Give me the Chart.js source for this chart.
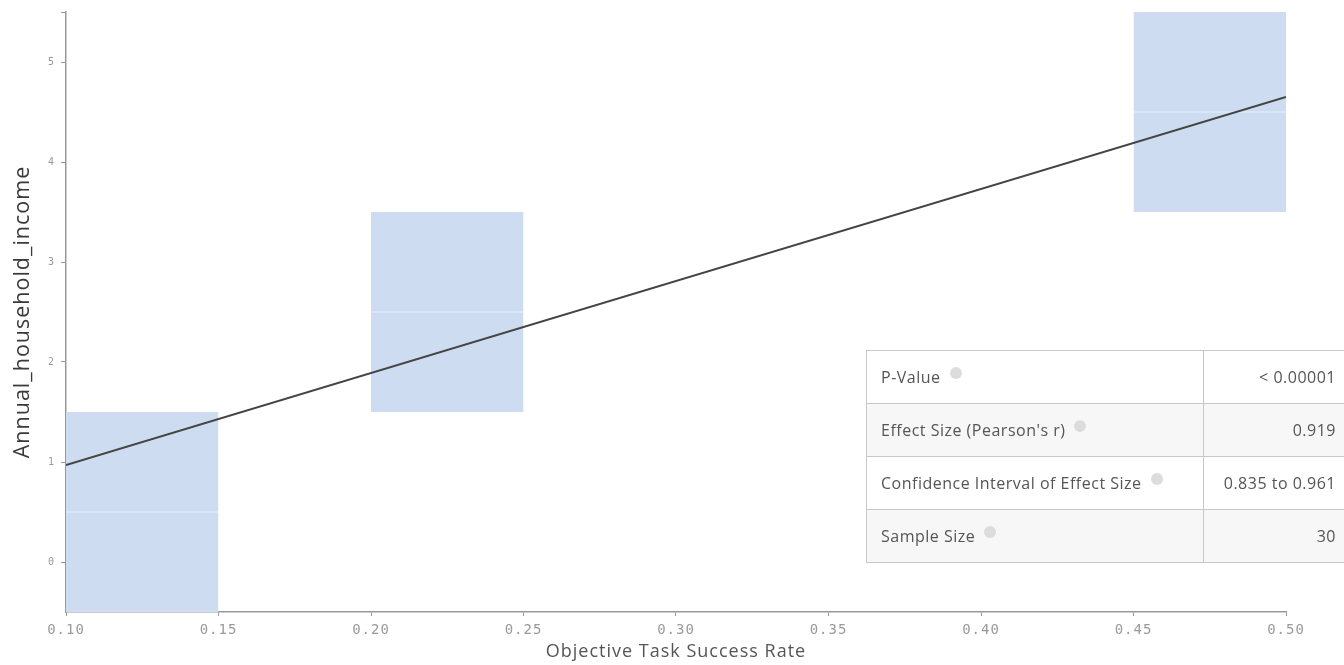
<!DOCTYPE html>
<html>
<head>
<meta charset="utf-8">
<script src="https://cdn.jsdelivr.net/npm/chart.js@4/dist/chart.umd.min.js"></script>
<style>
  html, body { margin: 0; padding: 0; background: #fff; }
  #wrap { position: relative; width: 1344px; height: 665px; overflow: hidden; }
  #stats {
    position: absolute; left: 866px; top: 350px; width: 500px;
    border-collapse: collapse; font-family: "Open Sans", Lato, sans-serif;
    font-size: 16px; letter-spacing: 0.5px; color: #555; table-layout: fixed;
  }
  #stats td { border: 1px solid #c8c8c8; height: 52px; padding: 0; white-space: nowrap; }
  #stats td.lbl { width: 322px; padding-left: 14px; }
  #stats td.val { text-align: right; padding-right: 29px; }
  #stats tr:nth-child(even) td { background: #f7f7f7; }
  .info {
    display: inline-block; width: 12px; height: 12px; border-radius: 50%;
    background: #dcdcdc; margin-left: 9px; vertical-align: 4px;
  }
</style>
</head>
<body>
<div id="wrap">
  <canvas id="c" width="1344" height="665"></canvas>
  <table id="stats"></table>
</div>
<script>
// groups (boxes)
const groupStart = [0.10, 0.20, 0.45];
const groupEnd = [0.15, 0.25, 0.50];
const groupLow = [-0.5, 1.5, 3.5];
const groupHigh = [1.5, 3.5, 5.5];
const groupMedian = [0.5, 2.5, 4.5];

// regression line
const fitX = [0.10, 0.50];
const fitY = [0.97, 4.65];

const xTicks = [0.10, 0.15, 0.20, 0.25, 0.30, 0.35, 0.40, 0.45, 0.50];
const yTicks = [0, 1, 2, 3, 4, 5, 5.5];

const statLabels = ['P-Value', "Effect Size (Pearson's r)", 'Confidence Interval of Effect Size', 'Sample Size'];
const statValues = ['< 0.00001', '0.919', '0.835 to 0.961', '30'];

const table = document.getElementById('stats');
statLabels.forEach((l, i) => {
  const tr = document.createElement('tr');
  tr.innerHTML = '<td class="lbl">' + l.replace(/</g, '&lt;') + '<span class="info"></span></td>' +
    '<td class="val">' + statValues[i].replace(/</g, '&lt;') + '</td>';
  table.appendChild(tr);
});

const boxColor = 'rgb(205,220,240)';
const datasets = [];
groupStart.forEach((s, i) => {
  datasets.push({
    data: [{x: s, y: groupHigh[i]}, {x: groupEnd[i], y: groupHigh[i]}],
    borderWidth: 0, pointRadius: 0, backgroundColor: boxColor,
    fill: {value: groupLow[i]}, order: 3
  });
  datasets.push({
    data: [{x: s, y: groupMedian[i]}, {x: groupEnd[i], y: groupMedian[i]}],
    borderWidth: 1, borderColor: 'rgba(235,242,250,0.9)', pointRadius: 0, fill: false, order: 2
  });
});
datasets.push({
  data: fitX.map((x, i) => ({x: x, y: fitY[i]})),
  borderColor: '#444', borderWidth: 2, pointRadius: 0, fill: false, order: 1
});

// the reference text is drawn a bit wide
const spacing = {
  id: 'spacing',
  beforeDraw(chart) { chart.ctx.letterSpacing = '1px'; }
};

new Chart(document.getElementById('c'), {
  type: 'line',
  data: {datasets: datasets},
  plugins: [spacing],
  options: {
    responsive: false,
    animation: false,
    layout: {padding: {left: 0, right: 58, top: 12, bottom: 0}},
    plugins: {legend: {display: false}, tooltip: {enabled: false}},
    scales: {
      x: {
        type: 'linear', min: 0.10, max: 0.50,
        afterBuildTicks: (s) => { s.ticks = xTicks.map(v => ({value: v})); },
        afterFit: (s) => { s.height = 53; },
        border: {color: '#999', width: 1.5},
        grid: {drawOnChartArea: false, drawTicks: true, tickLength: 4, color: '#999'},
        ticks: {color: '#9a9a9a', font: {family: '"DejaVu Sans Mono", monospace', size: 14},
          padding: 6, maxRotation: 0, autoSkip: false,
          callback: (v) => Number(v).toFixed(2)},
        title: {display: true, text: 'Objective Task Success Rate', color: '#555',
          font: {family: '"Open Sans", sans-serif', size: 18}, padding: {top: 0, bottom: 2}}
      },
      y: {
        type: 'linear', min: -0.5, max: 5.5,
        afterBuildTicks: (s) => { s.ticks = yTicks.map(v => ({value: v})); },
        afterFit: (s) => { s.width = 66; },
        border: {color: '#999', width: 1.5},
        grid: {drawOnChartArea: false, drawTicks: true, tickLength: 5, color: '#999'},
        ticks: {color: '#999', font: {family: '"DejaVu Sans Mono", monospace', size: 10}, padding: 6,
          callback: (v) => Number.isInteger(v) ? String(v) : ''},
        title: {display: true, text: 'Annual_household_income', color: '#3a3a3a',
          font: {family: '"Open Sans", sans-serif', size: 21.5}, padding: {top: 10, bottom: 0}}
      }
    }
  }
});
</script>
</body>
</html>
